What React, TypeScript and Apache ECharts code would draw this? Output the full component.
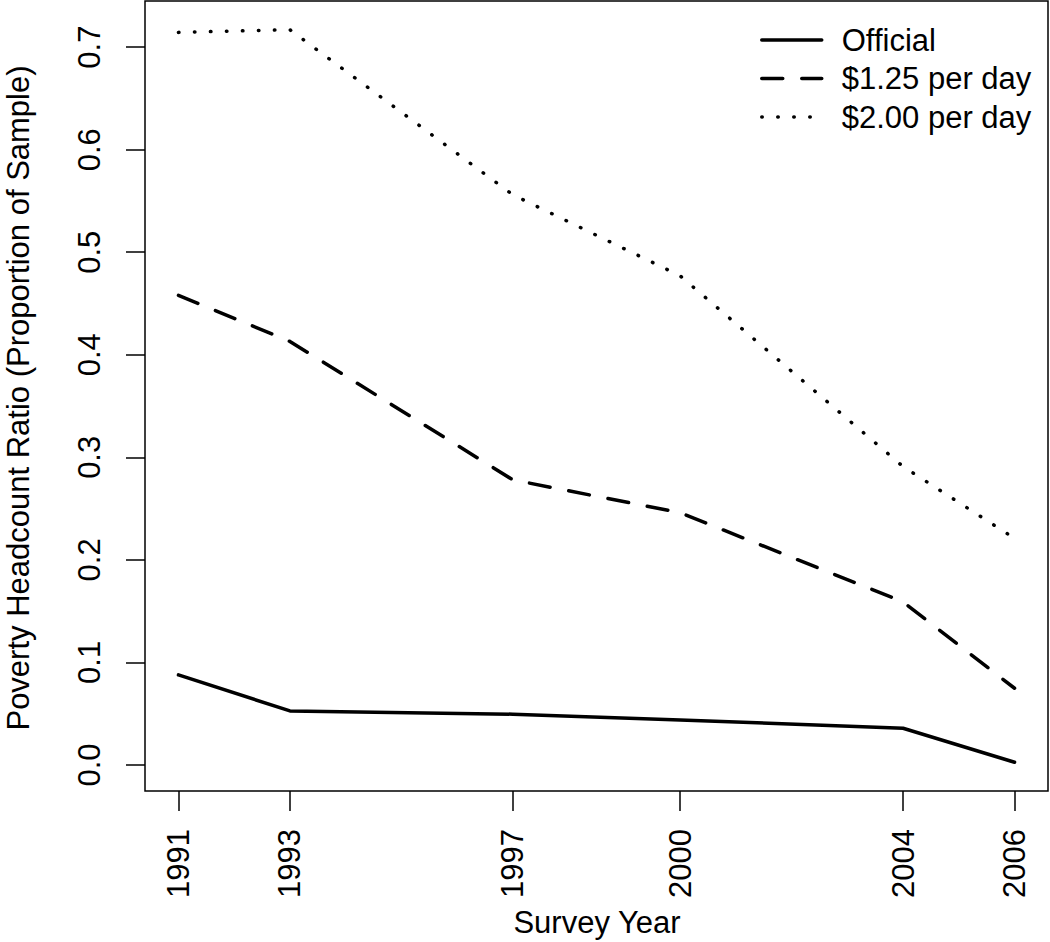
import React, { useEffect, useRef } from "react";
import * as echarts from "echarts";

const years = [1991, 1993, 1997, 2000, 2004, 2006];
const official = [0.0878, 0.0527, 0.0495, 0.0439, 0.0358, 0.0026];
const perDay125 = [0.458, 0.413, 0.278, 0.246, 0.159, 0.0748];
const perDay200 = [0.7144, 0.717, 0.556, 0.477, 0.291, 0.221];
const yTicks = [0, 0.1, 0.2, 0.3, 0.4, 0.5, 0.6, 0.7];
const seriesNames = ["Official", "$1.25 per day", "$2.00 per day"];
const xTitle = "Survey Year";
const yTitle = "Poverty Headcount Ratio (Proportion of Sample)";

const FONT = "'Liberation Sans', Arial, Helvetica, sans-serif";
const FS = 31;

export default function App() {
  const ref = useRef<HTMLDivElement>(null);
  useEffect(() => {
    if (!ref.current) return;
    const chart = echarts.init(ref.current, null, { renderer: "svg" });
    const pairs = (vals: number[]) => years.map((y, i) => [y, vals[i]]);
    const mk = (name: string, vals: number[], type: any) => ({
      name,
      type: "line",
      data: pairs(vals),
      symbol: "none",
      showSymbol: false,
      lineStyle: { color: "#000", width: 3.5, type, cap: "round", join: "round" },
      itemStyle: { color: "#000" },
      emphasis: { disabled: true },
    });
    chart.setOption({
      animation: false,
      backgroundColor: "#fff",
      textStyle: { fontFamily: FONT },
      grid: {
        left: 145,
        top: 1,
        width: 903,
        height: 790,
        show: true,
        borderColor: "#000",
        borderWidth: 1.5,
        backgroundColor: "transparent",
      },
      legend: {
        orient: "vertical",
        left: 755,
        top: 16,
        itemWidth: 60,
        itemHeight: 20,
        itemGap: 0.5,
        selectedMode: false,
        lineStyle: { width: 3.5 },
        itemStyle: { opacity: 0, color: "transparent", borderWidth: 0 },
        textStyle: {
          fontSize: FS,
          fontFamily: FONT,
          color: "#000",
          lineHeight: 38,
          padding: [0, 0, 0, 15],
        },
        data: seriesNames,
      },
      xAxis: {
        type: "value",
        min: 1990.4,
        max: 2006.6,
        splitLine: { show: false },
        axisLine: { show: false, onZero: false },
        axisTick: {
          show: true,
          length: 20,
          lineStyle: { color: "#000", width: 1.5 },
          customValues: years,
        },
        axisLabel: {
          customValues: years,
          rotate: 90,
          fontSize: FS,
          fontFamily: FONT,
          color: "#000",
          margin: 38,
          formatter: (v: number) => String(v),
        },
      },
      yAxis: {
        type: "value",
        min: -0.0254,
        max: 0.745,
        splitLine: { show: false },
        axisLine: { show: false, onZero: false },
        axisTick: {
          show: true,
          length: 19,
          lineStyle: { color: "#000", width: 1.5 },
          customValues: yTicks,
        },
        axisLabel: {
          customValues: yTicks,
          rotate: 90,
          fontSize: FS,
          fontFamily: FONT,
          color: "#000",
          margin: 40,
          formatter: (v: number) => v.toFixed(1),
        },
      },
      graphic: [
        {
          type: "text",
          x: 597,
          y: 922,
          style: {
            text: xTitle,
            fontSize: FS,
            fontFamily: FONT,
            fill: "#000",
            align: "center",
            verticalAlign: "middle",
            textAlign: "center",
            textVerticalAlign: "middle",
          },
        },
        {
          type: "text",
          x: 18,
          y: 398,
          rotation: Math.PI / 2,
          style: {
            text: yTitle,
            fontSize: FS,
            fontFamily: FONT,
            fill: "#000",
            align: "center",
            verticalAlign: "middle",
            textAlign: "center",
            textVerticalAlign: "middle",
          },
        },
      ],
      series: [
        mk(seriesNames[0], official, "solid"),
        mk(seriesNames[1], perDay125, [21, 19]),
        mk(seriesNames[2], perDay200, [0.5, 15.5]),
      ],
    });
    return () => chart.dispose();
  }, []);
  return (
    <div
      ref={ref}
      style={{ position: "absolute", left: 0, top: 0, width: 1050, height: 942 }}
    />
  );
}
